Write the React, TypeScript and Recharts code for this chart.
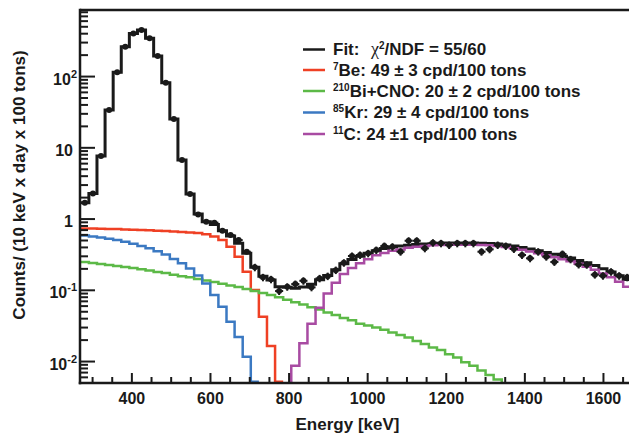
import React from "react";
import { ComposedChart, Line, Scatter, ErrorBar, XAxis, YAxis, ReferenceLine } from "recharts";

// histogram binning as it sits on the energy axis (keV)
const BIN_START = 270;
const BIN_WIDTH = 20.6;
const BELOW = 0.001; // "below the axis" marker for steps that fall off the plot

// total fit, bins 0-67
const FIT = [
  1.69, 2.29, 7.66, 33.9, 114.6, 262, 404, 450, 344, 194,
  81.9, 25.3, 6.73, 2.24, 1.175, 0.916, 0.842, 0.685, 0.577, 0.456,
  0.33, 0.21, 0.158, 0.14, 0.112, 0.11, 0.107, 0.111, 0.122, 0.141,
  0.162, 0.195, 0.235, 0.27, 0.3, 0.33, 0.36, 0.385, 0.405, 0.418,
  0.43, 0.44, 0.447, 0.452, 0.456, 0.46, 0.462, 0.462, 0.461, 0.458,
  0.453, 0.445, 0.432, 0.418, 0.4, 0.38, 0.36, 0.34, 0.32, 0.3,
  0.283, 0.263, 0.243, 0.223, 0.2, 0.18, 0.16, 0.142,
];

// measured spectrum, bins 0-67
const DATA = [
  1.69, 2.29, 7.66, 33.9, 114.6, 262, 404, 450, 344, 194,
  81.9, 25.3, 6.73, 2.24, 1.16, 0.92, 0.89, 0.685, 0.596, 0.507,
  0.348, 0.21, 0.152, 0.1425, 0.0976, 0.112, 0.1224, 0.136, 0.11, 0.147,
  0.158, 0.192, 0.2435, 0.303, 0.313, 0.33, 0.367, 0.418, 0.409, 0.348,
  0.496, 0.496, 0.388, 0.465, 0.456, 0.432, 0.456, 0.456, 0.456, 0.348,
  0.376, 0.432, 0.418, 0.38, 0.313, 0.281, 0.348, 0.296, 0.25, 0.323,
  0.272, 0.23, 0.228, 0.166, 0.16, 0.182, 0.16, 0.152,
];

// relative error of each data point
const DATA_ERR = [
  0.07, 0.06, 0.035, 0.02, 0.012, 0.01, 0.01, 0.01, 0.01, 0.01,
  0.015, 0.025, 0.04, 0.05, 0.06, 0.06, 0.06, 0.06, 0.06, 0.06,
  0.06, 0.12, 0.12, 0.12, 0.12, 0.12, 0.12, 0.12, 0.12, 0.12,
  0.12, 0.12, 0.12, 0.12, 0.12, 0.12, 0.12, 0.12, 0.12, 0.12,
  0.12, 0.12, 0.12, 0.12, 0.12, 0.12, 0.12, 0.12, 0.12, 0.12,
  0.12, 0.12, 0.12, 0.12, 0.12, 0.12, 0.12, 0.12, 0.12, 0.12,
  0.12, 0.12, 0.12, 0.12, 0.12, 0.12, 0.12, 0.12,
];

// 7Be, bins 0-24
const BE7 = [
  0.74, 0.738, 0.733, 0.728, 0.723, 0.716, 0.71, 0.7, 0.694, 0.685,
  0.678, 0.667, 0.657, 0.646, 0.636, 0.61, 0.568, 0.507, 0.409, 0.296,
  0.182, 0.101, 0.0425, 0.0165, 0.0052,
];

// 210Bi + CNO, bins 0-51
const BI_CNO = [
  0.249, 0.241, 0.234, 0.226, 0.219, 0.212, 0.205, 0.197, 0.189, 0.18,
  0.175, 0.166, 0.158, 0.152, 0.144, 0.137, 0.131, 0.124, 0.117, 0.111,
  0.104, 0.098, 0.092, 0.086, 0.08, 0.074, 0.068, 0.063, 0.058, 0.054,
  0.049, 0.045, 0.041, 0.038, 0.034, 0.032, 0.03, 0.028, 0.0255, 0.0235,
  0.0217, 0.0194, 0.0176, 0.0157, 0.0145, 0.0127, 0.0114, 0.0098, 0.0087, 0.0075,
  0.0065, 0.0056,
];

// 85Kr, bins 0-21
const KR85 = [
  0.587, 0.568, 0.55, 0.529, 0.507, 0.48, 0.45, 0.418, 0.388, 0.354,
  0.318, 0.275, 0.239, 0.203, 0.161, 0.125, 0.0858, 0.0588, 0.0362, 0.0222,
  0.0117, 0.0052,
];

// 11C, bins 26-67
const C11_FIRST_BIN = 26;
const C11 = [
  0.0087, 0.018, 0.034, 0.057, 0.09, 0.128, 0.17, 0.205, 0.24, 0.272,
  0.31, 0.335, 0.358, 0.375, 0.395, 0.41, 0.42, 0.428, 0.432, 0.435,
  0.437, 0.437, 0.436, 0.434, 0.43, 0.42, 0.405, 0.39, 0.37, 0.35,
  0.33, 0.31, 0.29, 0.272, 0.255, 0.235, 0.215, 0.195, 0.172, 0.152,
  0.132, 0.112,
];

const X_TICKS = Array.from({ length: 28 }, (_, i) => 300 + 50 * i);
const X_LABELS = [400, 600, 800, 1000, 1200, 1400, 1600];
const Y_LABELS = [
  { v: 0.01, base: "10", exp: "-2" },
  { v: 0.1, base: "10", exp: "-1" },
  { v: 1, base: "1", exp: "" },
  { v: 10, base: "10", exp: "" },
  { v: 100, base: "10", exp: "2" },
];
const Y_TICKS: number[] = [];
for (let e = -3; e <= 2; e++) {
  for (let m = 1; m <= 9; m++) {
    const v = m * Math.pow(10, e);
    if (v >= 0.005 && v <= 860) Y_TICKS.push(v);
  }
}

const LEGEND = [
  { color: "#1a1a1a", y: 55, sup: "", text: "" },
  { color: "#ef4024", y: 75.5, sup: "7", text: "Be: 49 ± 3 cpd/100 tons" },
  { color: "#5cb947", y: 96.5, sup: "210", text: "Bi+CNO: 20 ± 2 cpd/100 tons" },
  { color: "#3b79c2", y: 118, sup: "85", text: "Kr: 29 ± 4 cpd/100 tons" },
  { color: "#a84ba2", y: 139.5, sup: "11", text: "C: 24 ±1 cpd/100 tons" },
];

const INK = "#1a1a1a";
const RED = "#ef4024";
const GREEN = "#5cb947";
const BLUE = "#3b79c2";
const MAGENTA = "#a84ba2";
const FONT = "'Liberation Sans', Arial, Helvetica, sans-serif";

const AX_LEFT = 80;
const AX_BOTTOM = 383;

const edge = (k: number) => BIN_START + BIN_WIDTH * k;

function stepRows(values: number[], first = 0, dropIn = false, dropOut = false) {
  const rows = values.map((y, i) => ({ x: edge(first + i), y }));
  if (dropIn) rows.unshift({ x: edge(first - 1), y: BELOW });
  rows.push({ x: edge(first + values.length), y: dropOut ? BELOW : values[values.length - 1] });
  return rows;
}

const fitRows = stepRows(FIT);
const beRows = stepRows(BE7);
const biRows = stepRows(BI_CNO, 0, false, true);
const krRows = stepRows(KR85);
const cRows = stepRows(C11, C11_FIRST_BIN, true);
const pointRows = DATA.map((y, k) => ({
  x: edge(k) + BIN_WIDTH / 2,
  y,
  ex: BIN_WIDTH / 2,
  ey: y * DATA_ERR[k],
}));

function XTick(props: any) {
  const { x, payload } = props;
  const major = X_LABELS.includes(payload.value);
  return (
    <g>
      <line x1={x} x2={x} y1={AX_BOTTOM} y2={AX_BOTTOM - (major ? 10 : 6)} stroke={INK} strokeWidth={2} />
      {major && (
        <text x={x} y={404} textAnchor="middle" fontFamily={FONT} fontWeight="bold" fontSize={16} fill={INK}>
          {payload.value}
        </text>
      )}
    </g>
  );
}

function YTick(props: any) {
  const { y, payload } = props;
  const v = payload.value;
  const major = Y_LABELS.find((m) => Math.abs(m.v - v) / m.v < 1e-6);
  return (
    <g>
      <line x1={AX_LEFT} x2={AX_LEFT + (major ? 15 : 8)} y1={y} y2={y} stroke={INK} strokeWidth={2} />
      {major && (
        <text x={major.exp ? 77 : 73} y={y + 8} textAnchor="end" fontFamily={FONT} fontWeight="bold" fontSize={16} fill={INK}>
          {major.base}
          {major.exp && (
            <tspan dy={-7} fontSize={11}>
              {major.exp}
            </tspan>
          )}
        </text>
      )}
    </g>
  );
}

function Overlay() {
  const t = { fontFamily: FONT, fontWeight: "bold" as const, fontSize: 17, fill: INK };
  return (
    <svg width={629} height={434} style={{ position: "absolute", left: 0, top: 0, pointerEvents: "none" }}>
      {LEGEND.map((r, i) => (
        <line key={i} x1={303} x2={325} y1={r.y - 5.5} y2={r.y - 5.5} stroke={r.color} strokeWidth={2.5} />
      ))}
      <text x={333} y={55} {...t}>
        Fit:
        <tspan x={371} fontFamily="'Liberation Serif', 'DejaVu Serif', serif" fontWeight="normal" fontSize={18}>
          χ
        </tspan>
        <tspan dy={-6} fontSize={10}>2</tspan>
        <tspan dy={6}>/NDF = 55/60</tspan>
      </text>
      {LEGEND.slice(1).map((r) => (
        <text key={r.sup} x={333} y={r.y} {...t}>
          <tspan dy={-6} fontSize={10}>
            {r.sup}
          </tspan>
          <tspan dy={6}>{r.text}</tspan>
        </text>
      ))}
      <text x={347.5} y={430} textAnchor="middle" {...t}>
        Energy [keV]
      </text>
      <text transform="translate(25,185) rotate(-90)" textAnchor="middle" {...t}>
        Counts/ (10 keV x day x 100 tons)
      </text>
    </svg>
  );
}

export default function App() {
  const axisLine = { stroke: INK, strokeWidth: 2.5, strokeLinecap: "square" as const };
  return (
    <div style={{ position: "absolute", left: 0, top: 0, width: 629, height: 434, background: "#fff" }}>
      <ComposedChart width={629} height={434} margin={{ top: 10, right: 0, bottom: 0, left: 0 }}>
        <XAxis
          type="number"
          dataKey="x"
          domain={[268, 1665]}
          allowDataOverflow
          ticks={X_TICKS}
          interval={0}
          tick={XTick}
          tickLine={false}
          tickSize={0}
          tickMargin={0}
          axisLine={axisLine}
          height={51}
        />
        <YAxis
          type="number"
          scale="log"
          domain={[0.005, 860]}
          allowDataOverflow
          ticks={Y_TICKS}
          interval={0}
          tick={YTick}
          tickLine={false}
          tickSize={0}
          tickMargin={0}
          axisLine={axisLine}
          width={80}
        />
        <ReferenceLine y={860} stroke={INK} strokeWidth={2.5} />
        <Line data={fitRows} dataKey="y" type="stepAfter" stroke={INK} strokeWidth={3} dot={false} isAnimationActive={false} />
        <Line data={beRows} dataKey="y" type="stepAfter" stroke={RED} strokeWidth={2.5} dot={false} isAnimationActive={false} />
        <Line data={biRows} dataKey="y" type="stepAfter" stroke={GREEN} strokeWidth={2.5} dot={false} isAnimationActive={false} />
        <Line data={krRows} dataKey="y" type="stepAfter" stroke={BLUE} strokeWidth={2.5} dot={false} isAnimationActive={false} />
        <Line data={cRows} dataKey="y" type="stepAfter" stroke={MAGENTA} strokeWidth={2.5} dot={false} isAnimationActive={false} />
        <Scatter
          data={pointRows}
          dataKey="y"
          isAnimationActive={false}
          shape={(p: any) => <circle cx={p.cx} cy={p.cy} r={3} fill={INK} />}
        >
          <ErrorBar dataKey="ey" direction="y" width={0} stroke={INK} strokeWidth={2} isAnimationActive={false} />
          <ErrorBar dataKey="ex" direction="x" width={0} stroke={INK} strokeWidth={2} isAnimationActive={false} />
        </Scatter>
      </ComposedChart>
      <Overlay />
    </div>
  );
}
